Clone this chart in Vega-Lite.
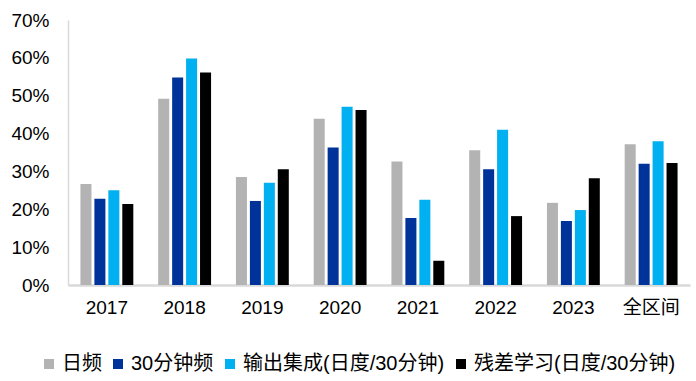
{
  "$schema": "https://vega.github.io/schema/vega-lite/v6.json",
  "width": 622,
  "height": 265,
  "autosize": {"type": "none"},
  "padding": {"left": 68, "top": 20, "right": 6, "bottom": 96},
  "data": {
    "values": [
      {"period": "2017", "method": "日频", "value": 0.267},
      {"period": "2017", "method": "30分钟频", "value": 0.228},
      {"period": "2017", "method": "输出集成(日度/30分钟)", "value": 0.250},
      {"period": "2017", "method": "残差学习(日度/30分钟)", "value": 0.214},
      {"period": "2018", "method": "日频", "value": 0.492},
      {"period": "2018", "method": "30分钟频", "value": 0.548},
      {"period": "2018", "method": "输出集成(日度/30分钟)", "value": 0.598},
      {"period": "2018", "method": "残差学习(日度/30分钟)", "value": 0.561},
      {"period": "2019", "method": "日频", "value": 0.285},
      {"period": "2019", "method": "30分钟频", "value": 0.222},
      {"period": "2019", "method": "输出集成(日度/30分钟)", "value": 0.270},
      {"period": "2019", "method": "残差学习(日度/30分钟)", "value": 0.306},
      {"period": "2020", "method": "日频", "value": 0.439},
      {"period": "2020", "method": "30分钟频", "value": 0.363},
      {"period": "2020", "method": "输出集成(日度/30分钟)", "value": 0.471},
      {"period": "2020", "method": "残差学习(日度/30分钟)", "value": 0.462},
      {"period": "2021", "method": "日频", "value": 0.326},
      {"period": "2021", "method": "30分钟频", "value": 0.177},
      {"period": "2021", "method": "输出集成(日度/30分钟)", "value": 0.225},
      {"period": "2021", "method": "残差学习(日度/30分钟)", "value": 0.064},
      {"period": "2022", "method": "日频", "value": 0.356},
      {"period": "2022", "method": "30分钟频", "value": 0.306},
      {"period": "2022", "method": "输出集成(日度/30分钟)", "value": 0.410},
      {"period": "2022", "method": "残差学习(日度/30分钟)", "value": 0.182},
      {"period": "2023", "method": "日频", "value": 0.217},
      {"period": "2023", "method": "30分钟频", "value": 0.169},
      {"period": "2023", "method": "输出集成(日度/30分钟)", "value": 0.198},
      {"period": "2023", "method": "残差学习(日度/30分钟)", "value": 0.282},
      {"period": "全区间", "method": "日频", "value": 0.372},
      {"period": "全区间", "method": "30分钟频", "value": 0.320},
      {"period": "全区间", "method": "输出集成(日度/30分钟)", "value": 0.380},
      {"period": "全区间", "method": "残差学习(日度/30分钟)", "value": 0.322}
    ]
  },
  "mark": {"type": "bar"},
  "encoding": {
    "x": {
      "field": "period",
      "type": "nominal",
      "sort": ["2017", "2018", "2019", "2020", "2021", "2022", "2023", "全区间"],
      "scale": {"paddingInner": 0.32, "paddingOuter": 0.16},
      "axis": {
        "title": null,
        "labelAngle": 0,
        "labelFont": "Liberation Sans, Noto Sans CJK SC",
        "labelFontSize": 19,
        "labelColor": "#000000",
        "labelPadding": 13,
        "ticks": false,
        "domainColor": "#d9d9d9",
        "domainWidth": 2.5
      }
    },
    "xOffset": {
      "field": "method",
      "type": "nominal",
      "sort": ["日频", "30分钟频", "输出集成(日度/30分钟)", "残差学习(日度/30分钟)"],
      "scale": {"paddingInner": 0.21, "paddingOuter": 0}
    },
    "y": {
      "field": "value",
      "type": "quantitative",
      "scale": {"domain": [0, 0.7]},
      "axis": {
        "title": null,
        "format": ".0%",
        "values": [0, 0.1, 0.2, 0.3, 0.4, 0.5, 0.6, 0.7],
        "grid": false,
        "ticks": false,
        "labelFont": "Liberation Sans",
        "labelFontSize": 19,
        "labelColor": "#000000",
        "labelPadding": 19,
        "domainColor": "#d9d9d9",
        "domainWidth": 1.5
      }
    },
    "color": {
      "field": "method",
      "type": "nominal",
      "sort": ["日频", "30分钟频", "输出集成(日度/30分钟)", "残差学习(日度/30分钟)"],
      "scale": {
        "domain": ["日频", "30分钟频", "输出集成(日度/30分钟)", "残差学习(日度/30分钟)"],
        "range": ["#B3B3B3", "#003399", "#00B0F0", "#000000"]
      },
      "legend": {
        "title": null,
        "orient": "none",
        "direction": "horizontal",
        "legendX": -29,
        "legendY": 334,
        "symbolType": "square",
        "symbolSize": 100,
        "symbolStrokeWidth": 0,
        "labelFont": "Liberation Sans, Noto Sans CJK SC",
        "labelFontSize": 20,
        "labelColor": "#000000",
        "labelOffset": 3,
        "columnPadding": 6,
        "labelLimit": 400
      }
    }
  },
  "config": {"view": {"stroke": null}}
}
